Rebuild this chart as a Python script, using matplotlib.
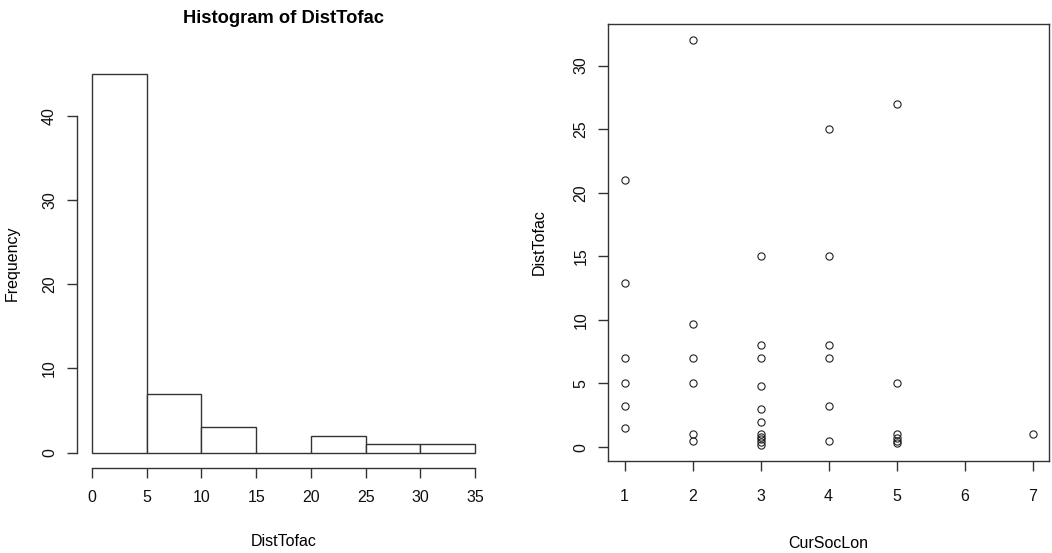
import numpy as np
import matplotlib
matplotlib.use('Agg')
import matplotlib.pyplot as plt

plt.rcParams['font.family'] = ['Liberation Sans', 'DejaVu Sans']
plt.rcParams['font.size'] = 11.5

# histogram of DistTofac (counts per 5-unit bin)
bin_edges = [0, 5, 10, 15, 20, 25, 30, 35]
hist_counts = [45, 7, 3, 0, 2, 1, 1]

# scatter: CurSocLon vs DistTofac
cursoclon = [1, 1, 1, 1, 1, 1,
             2, 2, 2, 2, 2, 2,
             3, 3, 3, 3, 3, 3, 3, 3, 3, 3, 3,
             4, 4, 4, 4, 4, 4,
             5, 5, 5, 5, 5, 5,
             7]
disttofac = [21, 12.9, 7, 5, 3.2, 1.5,
             32, 9.7, 7, 5, 1, 0.5,
             15, 8, 7, 4.8, 3, 2, 1, 0.8, 0.6, 0.4, 0.2,
             25, 15, 8, 7, 3.2, 0.5,
             27, 5, 1, 0.75, 0.5, 0.3,
             1]

line_col = '#333333'

fig = plt.figure(figsize=(10.52, 5.53), dpi=100)

# left panel: histogram
ax1 = fig.add_axes([0.0729, 0.1543, 0.3932, 0.739])
edges = np.array(bin_edges)
ax1.bar(edges[:-1], hist_counts, width=np.diff(edges), align='edge',
        facecolor='white', edgecolor=line_col, linewidth=1.0)
ax1.use_sticky_edges = False
ax1.margins(0.04)
ax1.set_xticks(bin_edges)
ax1.set_yticks([0, 10, 20, 30, 40])
for s in ['top', 'right']:
    ax1.spines[s].set_visible(False)
ax1.spines['left'].set_bounds(0, 40)
ax1.spines['bottom'].set_bounds(0, 35)
ax1.set_title('Histogram of DistTofac', fontweight='bold', fontsize=13.2, pad=26)
ax1.set_xlabel('DistTofac', labelpad=21)
ax1.set_ylabel('Frequency', labelpad=16)

# right panel: scatter
ax2 = fig.add_axes([0.5782, 0.1669, 0.4189, 0.7897])
ax2.plot(cursoclon, disttofac, linestyle='none', marker='o', markersize=5.2,
         markerfacecolor='none', markeredgecolor='#222222', markeredgewidth=0.8)
ax2.margins(0.04)
ax2.set_xticks([1, 2, 3, 4, 5, 6, 7])
ax2.set_yticks([0, 5, 10, 15, 20, 25, 30])
ax2.set_xlabel('CurSocLon', labelpad=23)
ax2.set_ylabel('DistTofac', labelpad=19)

for ax in (ax1, ax2):
    for s in ax.spines.values():
        s.set_color(line_col)
        s.set_linewidth(1.0)
    ax.tick_params(direction='out', length=7.2, width=1.0, color=line_col,
                   labelsize=11.5, labelcolor='#111111')
    ax.tick_params(axis='y', pad=7)
    for lab in ax.get_yticklabels():
        lab.set_rotation(90)
        lab.set_va('center')
ax1.tick_params(axis='x', pad=9)
ax2.tick_params(axis='x', pad=13)

fig.savefig('out.png', dpi=100, facecolor='white')
